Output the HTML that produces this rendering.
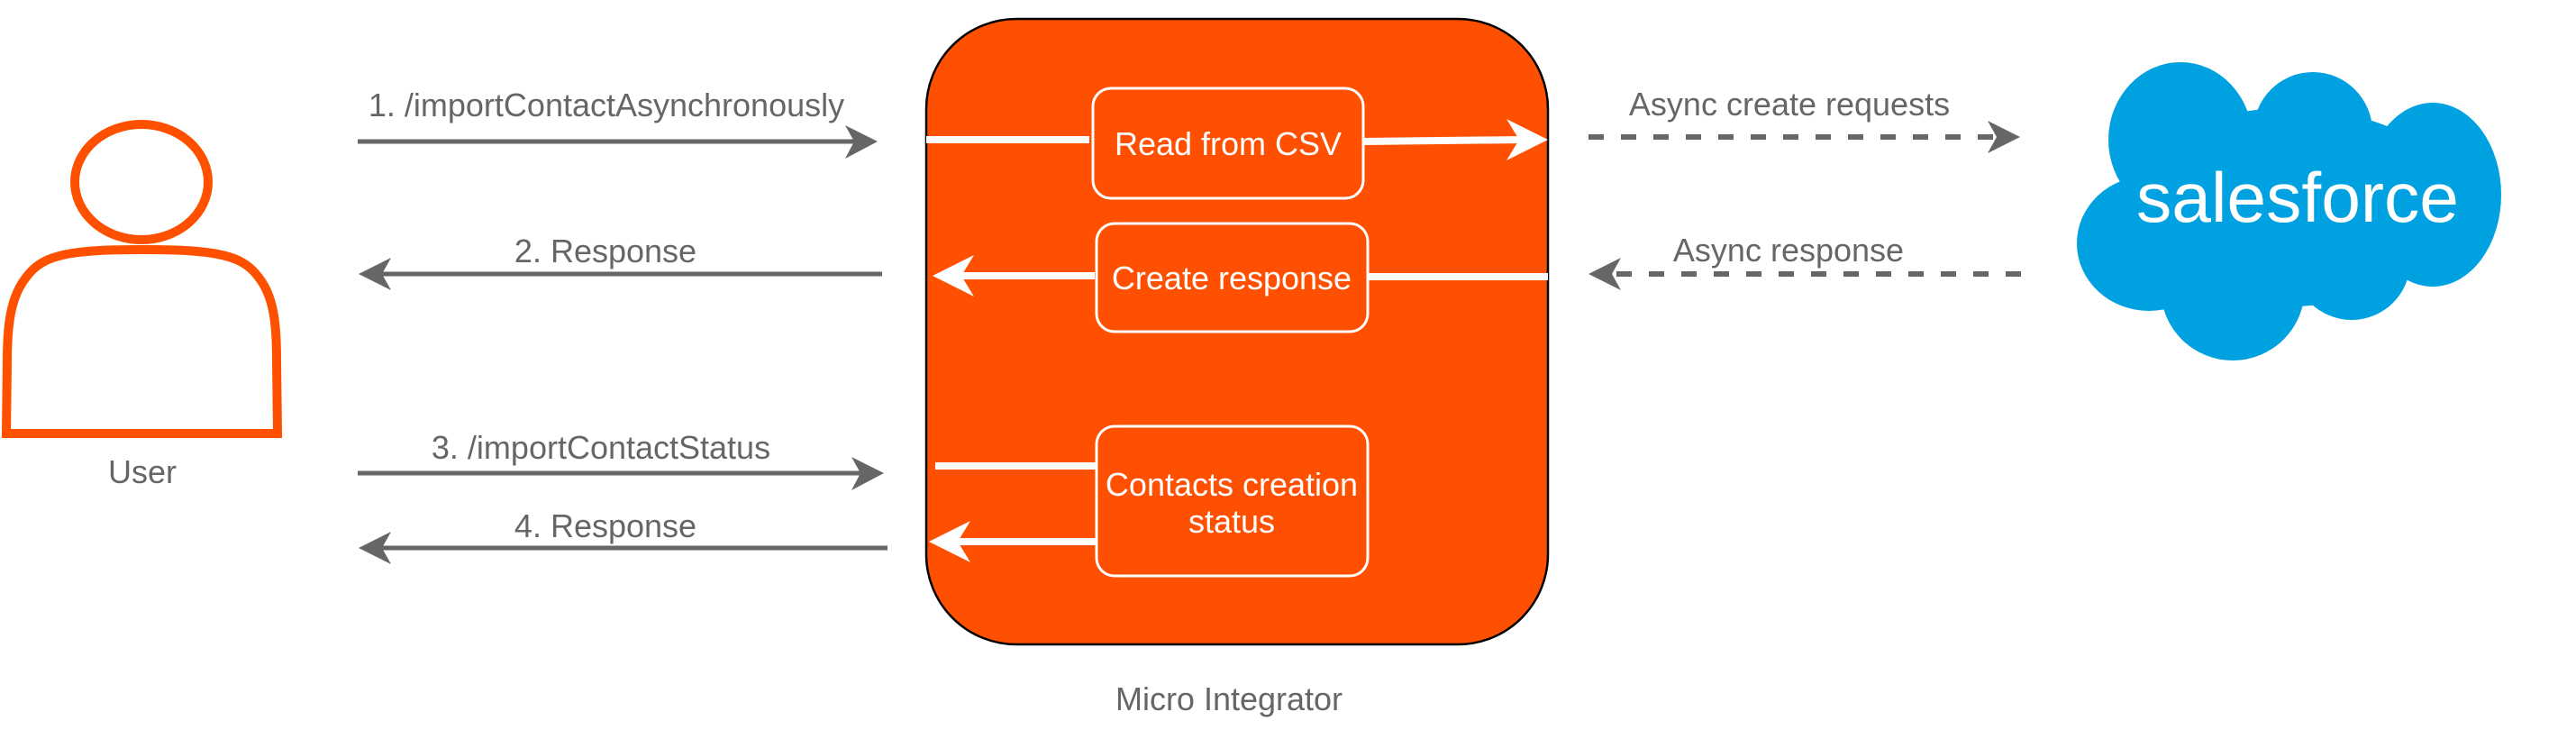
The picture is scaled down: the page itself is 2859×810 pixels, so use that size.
<!DOCTYPE html>
<html><head><meta charset="utf-8"><style>
html,body{margin:0;padding:0;background:#fff;}
svg{display:block;}
text{font-family:"Liberation Sans",Arial,sans-serif;}
</style></head><body>
<svg width="2859" height="810" viewBox="0 0 2859 810" xmlns="http://www.w3.org/2000/svg">
<!-- User -->
<ellipse cx="157" cy="202" rx="74" ry="64" fill="none" stroke="#FF5000" stroke-width="10"/>
<path d="M7 481 L8 400 C8 360 12 330 28 309 C40 292 55 285 80 281 C100 278 120 277 158 277 C196 277 216 278 236 281 C261 285 276 292 288 309 C304 330 307 360 307 400 L308 481 Z" fill="none" stroke="#FF5000" stroke-width="10"/>
<text x="158" y="536" font-size="36" fill="#666" text-anchor="middle">User</text>

<!-- Grey arrows left -->
<g stroke="#666" stroke-width="5" fill="#666">
<line x1="397" y1="157" x2="950" y2="157"/>
<line x1="979" y1="304" x2="420" y2="304"/>
<line x1="397" y1="525" x2="955" y2="525"/>
<line x1="985" y1="608" x2="420" y2="608"/>
</g>
<g fill="#666">
<path d="M974 157 L938 139 L948 157 L938 176 Z"/>
<path d="M398 304 L434 286 L424 304 L434 322 Z"/>
<path d="M981 525 L945 507 L955 525 L945 544 Z"/>
<path d="M398 608 L434 590 L424 608 L434 626 Z"/>
</g>
<g font-size="36" fill="#666" text-anchor="middle">
<text x="673" y="129">1. /importContactAsynchronously</text>
<text x="672" y="291">2. Response</text>
<text x="667" y="509">3. /importContactStatus</text>
<text x="672" y="596">4. Response</text>
</g>

<!-- Micro Integrator container -->
<rect x="1028" y="21" width="690" height="694" rx="100" ry="100" fill="#FE5000" stroke="#000" stroke-width="2.5"/>
<g fill="none" stroke="#fff" stroke-width="3">
<rect x="1213" y="98" width="300" height="122" rx="20"/>
<rect x="1217" y="248" width="301" height="120" rx="20"/>
<rect x="1217" y="473" width="301" height="166" rx="20"/>
</g>
<g stroke="#fff" stroke-width="8">
<line x1="1028" y1="155" x2="1209" y2="155"/>
<line x1="1514" y1="157" x2="1690" y2="155"/>
<line x1="1519" y1="307" x2="1718" y2="307"/>
<line x1="1215" y1="306" x2="1060" y2="306"/>
<line x1="1038" y1="517" x2="1217" y2="517"/>
<line x1="1217" y1="601" x2="1055" y2="601"/>
</g>
<g fill="#fff">
<path d="M1718 155 L1672 132 L1686 155 L1672 178 Z"/>
<path d="M1035 306 L1081 283 L1067 306 L1081 329 Z"/>
<path d="M1031 601 L1077 578 L1063 601 L1077 624 Z"/>
</g>
<g font-size="36" fill="#fff" text-anchor="middle">
<text x="1363" y="172">Read from CSV</text>
<text x="1367" y="321">Create response</text>
<text x="1367" y="550">Contacts creation</text>
<text x="1367" y="591">status</text>
</g>
<text x="1364" y="788" font-size="36" fill="#666" text-anchor="middle">Micro Integrator</text>

<!-- dashed arrows -->
<g stroke="#666" stroke-width="6" stroke-dasharray="17 19">
<line x1="1763" y1="152" x2="2225" y2="152"/>
<line x1="2243" y1="304" x2="1785" y2="304"/>
</g>
<g fill="#666">
<path d="M2242 152 L2206 134 L2216 152 L2206 170 Z"/>
<path d="M1763 304 L1799 286 L1789 304 L1799 322 Z"/>
</g>
<g font-size="36" fill="#666" text-anchor="middle">
<text x="1986" y="128">Async create requests</text>
<text x="1985" y="290">Async response</text>
</g>

<!-- Salesforce cloud -->
<g fill="#00A1E0">
<ellipse cx="2420" cy="155" rx="80" ry="86"/>
<circle cx="2567" cy="146" r="66"/>
<ellipse cx="2700" cy="216" rx="76" ry="102"/>
<ellipse cx="2385" cy="270" rx="80" ry="75"/>
<ellipse cx="2478" cy="320" rx="80" ry="80"/>
<circle cx="2610" cy="290" r="65"/>
<ellipse cx="2540" cy="230" rx="190" ry="110"/>
</g>
<text x="2550" y="246" font-size="78" fill="#fff" text-anchor="middle" textLength="358" lengthAdjust="spacingAndGlyphs">salesforce</text>
</svg>
</body></html>
